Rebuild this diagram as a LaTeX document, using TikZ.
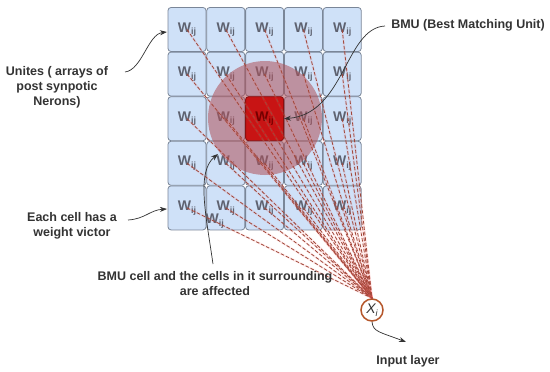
\documentclass[tikz,border=0pt]{standalone}
\usepackage{fontspec}
\setmainfont{Liberation Sans}
\usetikzlibrary{arrows.meta,calc}
\definecolor{cellfill}{HTML}{CFE1F8}
\definecolor{celldraw}{HTML}{7A8698}
\definecolor{wgray}{HTML}{5E6270}
\definecolor{anncol}{HTML}{333333}
\definecolor{zonecol}{HTML}{B05058}
\definecolor{bmured}{HTML}{C81414}
\definecolor{dashcol}{HTML}{A0483A}
\definecolor{xicol}{HTML}{B5562A}
\tikzset{
  cell/.style={draw=celldraw, fill=cellfill, line width=0.8pt, rounded corners=3pt, minimum width=38pt, minimum height=44pt, inner sep=0pt},
  wlab/.style={text=wgray, font=\fontsize{14}{14}\selectfont\bfseries, inner sep=0pt},
  ann/.style={text=anncol, font=\fontsize{12.5}{15}\selectfont\bfseries, align=center, inner sep=0pt},
  arr/.style={draw=anncol, line width=0.7pt, -{Stealth[length=7pt,width=5pt]}},
  dashline/.style={draw=dashcol, line width=0.8pt, dash pattern=on 3.5pt off 2pt},
  glow/.style={draw=red!60!white, line width=2.2pt, opacity=0.12},
}
\newcommand{\wij}{W\raisebox{-0.35ex}{\fontsize{9}{9}\selectfont ij}}
\begin{document}
\begin{tikzpicture}[x=1pt,y=-1pt]
\useasboundingbox (0,0) rectangle (550,372);
% grid cells
\foreach \c in {0,...,4}{
  \foreach \r in {0,...,4}{
    \node[cell] (c\c\r) at ({187+38.8*\c},{29.5+44.6*\r}) {};
  }
}
% labels
\foreach \c in {0,...,4}{
  \foreach \r in {0,...,4}{
    \ifnum\c=2 \ifnum\r=2 \else
      \node[wlab] (w\c\r) at (c\c\r) {\wij};
    \fi\else
      \node[wlab] (w\c\r) at (c\c\r) {\wij};
    \fi
  }
}
\node[wlab] (wextra) at ($(c14)+(-11,13)$) {\wij};
% affected zone
\node[circle, fill=zonecol, opacity=0.55, minimum size=114pt, inner sep=0pt] (zone) at (265,118) {};
% BMU cell
\node[cell, draw=bmured!70!black, fill=bmured] (bmu) at (c22) {};
\node[wlab, text=red!45!black] (wbmu) at (bmu) {\wij};
% input node
\node[circle, draw=xicol, line width=1.5pt, fill=white, minimum size=22pt, inner sep=0pt, text=anncol, font=\fontsize{14}{14}\selectfont\itshape] (xi) at (372,310) {X\raisebox{-0.4ex}{\fontsize{9}{9}\selectfont i}};
% dashed connectors
\foreach \c in {0,...,4}{
  \foreach \r in {0,...,4}{
    \draw[glow] (c\c\r.center) -- (xi.north);
    \draw[dashline] (c\c\r.center) -- (xi.north);
  }
}
% annotations
\node[ann] (unites) at (57,87) {Unites ( arrays of\\post synpotic\\Nerons)};
\coordinate (unitesS) at (125,72);
\coordinate (unitesT) at (167,32);
\draw[arr] (unitesS) .. controls (142,70) and (148,34) .. (unitesT);

\node[ann] (bmulab) at (468,25) {BMU (Best Matching Unit)};
\coordinate (bmuS) at (385,26);
\draw[arr] (bmuS) .. controls (345,28) and (345,114) .. (bmu.east);

\node[ann] (eachcell) at (72,226) {Each cell has a\\weight victor};
\coordinate (eachS) at (128,220);
\coordinate (eachT) at (167,209);
\draw[arr] (eachS) .. controls (145,219) and (150,210) .. (eachT);

\node[ann] (affected) at (215,284) {BMU cell and the cells in it surrounding\\are affected};
\coordinate (affS) at (213,264);
\coordinate (affT) at (218,154);
\draw[arr] (affS) .. controls (206,215) and (196,172) .. (affT);

\node[ann] (input) at (408,361) {Input layer};
\coordinate (inT) at (406,342);
\draw[arr] (xi.south) .. controls (373,332) and (380,332) .. (inT);
\end{tikzpicture}
\end{document}
